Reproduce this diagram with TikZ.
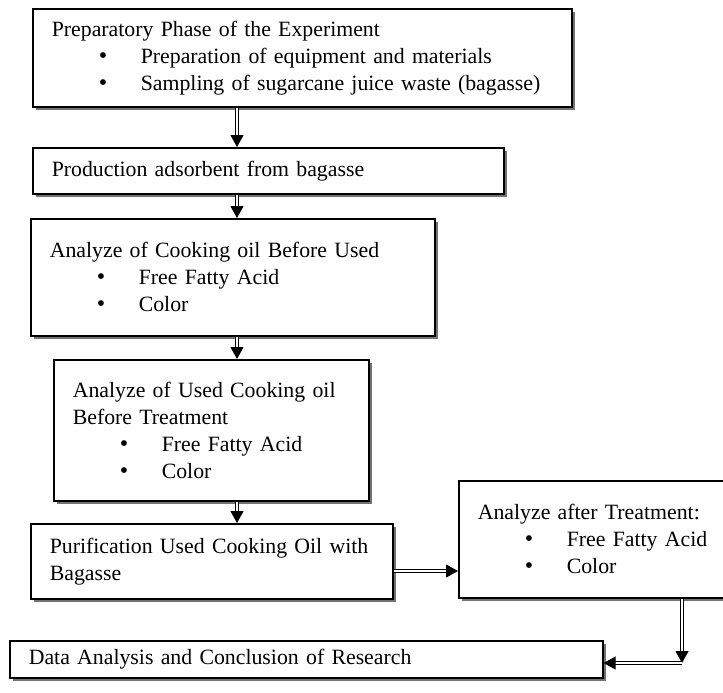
\documentclass[tikz,border=0pt]{standalone}
\usepackage{fontspec}
\setmainfont{Liberation Serif}
\usetikzlibrary{positioning}
\usetikzlibrary{arrows.meta}
\usetikzlibrary{shadows}
\newcommand{\bitem}[1]{\hspace*{23.5pt}\makebox[21pt][l]{\large\textbullet}#1}
\tikzset{
phase/.style={ % Sets the properties for each box
draw, line width=0.8pt, fill=white,
anchor=north west, align=left,
inner xsep=9.5pt, inner ysep=0pt,
font=\fontsize{10.9}{13.5}\selectfont,
drop shadow={shadow xshift=1.6pt, shadow yshift=-1.6pt, fill=black!55, opacity=1}},
flow/.style={ % Sets the properties for each arrow
draw, double, double distance=1.2pt, line width=0.5pt,
-{Triangle[length=6pt,width=6.5pt]}}}

\begin{document}
\begin{tikzpicture}[x=0.5pt, y=-0.5pt]
	\useasboundingbox (0,0) rectangle (723,692);
	\node[phase, text width=250.5pt, minimum height=49pt] (prep) at (32,8) {Preparatory Phase of the Experiment\\ \bitem{Preparation of equipment and materials}\\ \bitem{Sampling of sugarcane juice waste (bagasse)}};
	\node[phase, text width=216.5pt, minimum height=23pt] (adsorb) at (32,147) {Production adsorbent from bagasse};
	\node[phase, text width=183pt, minimum height=58.5pt] (before) at (30,218) {Analyze of Cooking oil Before Used\\ \bitem{Free Fatty Acid}\\ \bitem{Color}\\[5pt]};
	\node[phase, text width=138.5pt, minimum height=70.5pt] (used) at (53,359) {Analyze of Used Cooking oil\\ Before Treatment\\ \bitem{Free Fatty Acid}\\ \bitem{Color}};
	\node[phase, text width=162pt, minimum height=37.5pt] (purify) at (30,523) {Purification Used Cooking Oil with\\ Bagasse};
	\node[phase, text width=119.5pt, minimum height=58.5pt] (after) at (458,480) {Analyze after Treatment:\\ \bitem{Free Fatty Acid}\\ \bitem{Color}};
	\node[phase, text width=277.5pt, minimum height=18.5pt] (report) at (9,640) {Data Analysis and Conclusion of Research};
	\coordinate (spine) at (237,0);
	\coordinate (side) at (0,571);
	\coordinate (turn) at (682,663);
	\draw[flow] (prep.south -| spine) -- (adsorb.north -| spine);
	\draw[flow] (adsorb.south -| spine) -- (before.north -| spine);
	\draw[flow] (before.south -| spine) -- (used.north -| spine);
	\draw[flow] (used.south -| spine) -- (purify.north -| spine);
	\draw[flow] (purify.east |- side) -- (after.west |- side);
	\draw[flow] (after.south -| turn) -- (turn);
	\draw[flow] (turn) -- (report.east |- turn);
\end{tikzpicture}
\end{document}
